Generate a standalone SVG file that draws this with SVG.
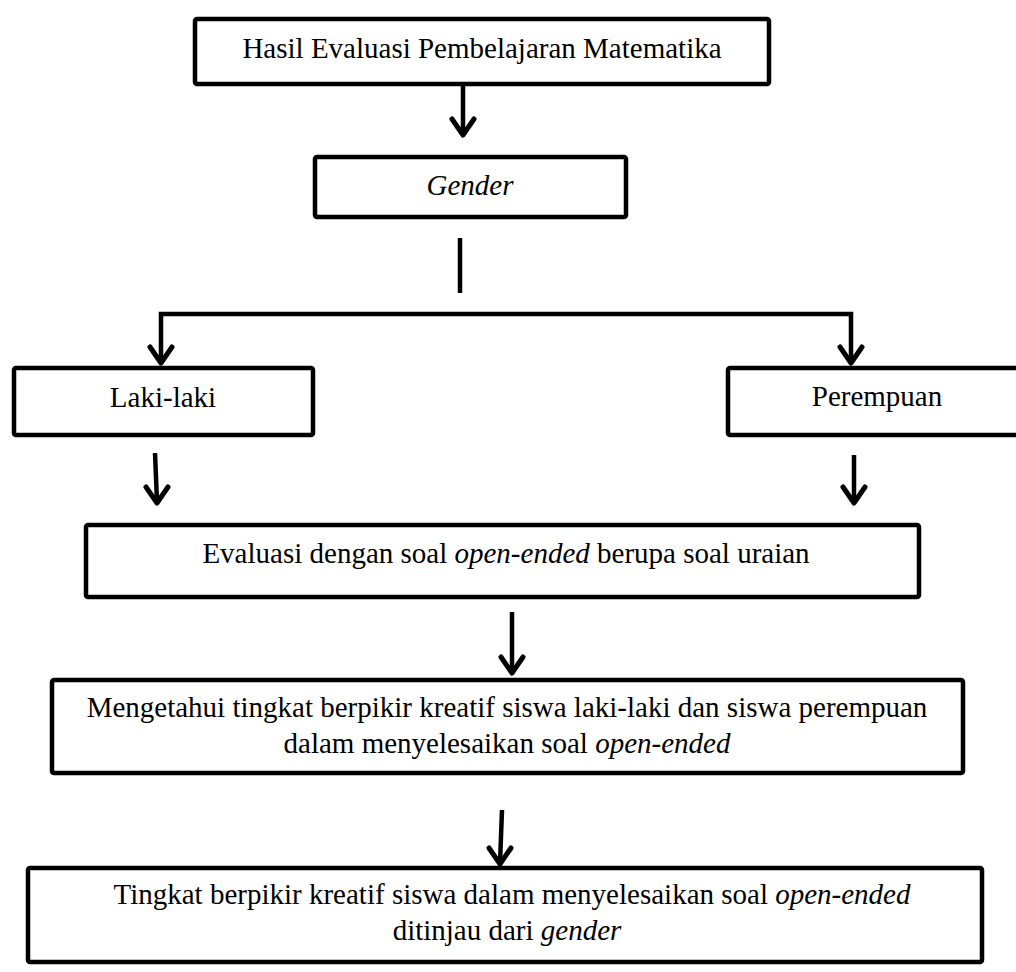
<svg xmlns="http://www.w3.org/2000/svg" width="1016" height="972" viewBox="0 0 1016 972">
<style>
.box{fill:#fff;stroke:#000;stroke-width:4.5}
.t{font-family:"Liberation Serif","Times New Roman",serif;font-size:29px;fill:#000;text-anchor:middle}
.i{font-style:italic}
.c{fill:none;stroke:#000;stroke-width:4.5;stroke-linejoin:miter}
.h{fill:none;stroke:#000;stroke-width:5;stroke-linecap:round;stroke-linejoin:round}
</style>
<rect width="1016" height="972" fill="#fff"/>
<g id="connectors">
<line class="c" x1="463" y1="86" x2="463" y2="134"/><polyline class="h" points="452,119 463,135 474,119"/>
<line class="c" x1="460" y1="238" x2="460" y2="293"/>
<polyline class="c" points="161,362 161,314 851,314 851,362"/>
<polyline class="h" points="150,347 161,363 172,347"/>
<polyline class="h" points="840,347 851,363 862,347"/>
<line class="c" x1="155" y1="453" x2="157" y2="502"/><polyline class="h" points="146,487 157,503 168,487"/>
<line class="c" x1="854" y1="455" x2="854" y2="502"/><polyline class="h" points="843,487 854,503 865,487"/>
<line class="c" x1="512" y1="612" x2="512" y2="672"/><polyline class="h" points="501,657 512,673 523,657"/>
<line class="c" x1="502" y1="810" x2="500" y2="863"/><polyline class="h" points="489,848 500,864 511,848"/>
</g>
<g id="n1"><rect class="box" x="195" y="19" width="574" height="65" rx="2"/>
<text class="t" x="482" y="58">Hasil Evaluasi Pembelajaran Matematika</text></g>
<g id="n2"><rect class="box" x="315" y="157" width="311" height="60" rx="2"/>
<text class="t i" x="470" y="195">Gender</text></g>
<g id="n3"><rect class="box" x="14" y="368" width="299" height="67" rx="2"/>
<text class="t" x="163" y="407">Laki-laki</text></g>
<g id="n4"><rect class="box" x="728" y="368" width="300" height="67" rx="2"/>
<text class="t" x="877" y="406">Perempuan</text></g>
<g id="n5"><rect class="box" x="86" y="525" width="833" height="72" rx="2"/>
<text class="t" x="506" y="563">Evaluasi dengan soal <tspan class="i">open-ended</tspan> berupa soal uraian</text></g>
<g id="n6"><rect class="box" x="52" y="680" width="911" height="93" rx="2"/>
<text class="t" x="507" y="717">Mengetahui tingkat berpikir kreatif siswa laki-laki dan siswa perempuan</text>
<text class="t" x="507" y="753">dalam menyelesaikan soal <tspan class="i">open-ended</tspan></text></g>
<g id="n7"><rect class="box" x="28" y="868" width="954" height="94" rx="2"/>
<text class="t" x="512" y="904">Tingkat berpikir kreatif siswa dalam menyelesaikan soal <tspan class="i">open-ended</tspan></text>
<text class="t" x="507" y="940">ditinjau dari <tspan class="i">gender</tspan></text></g>
</svg>
